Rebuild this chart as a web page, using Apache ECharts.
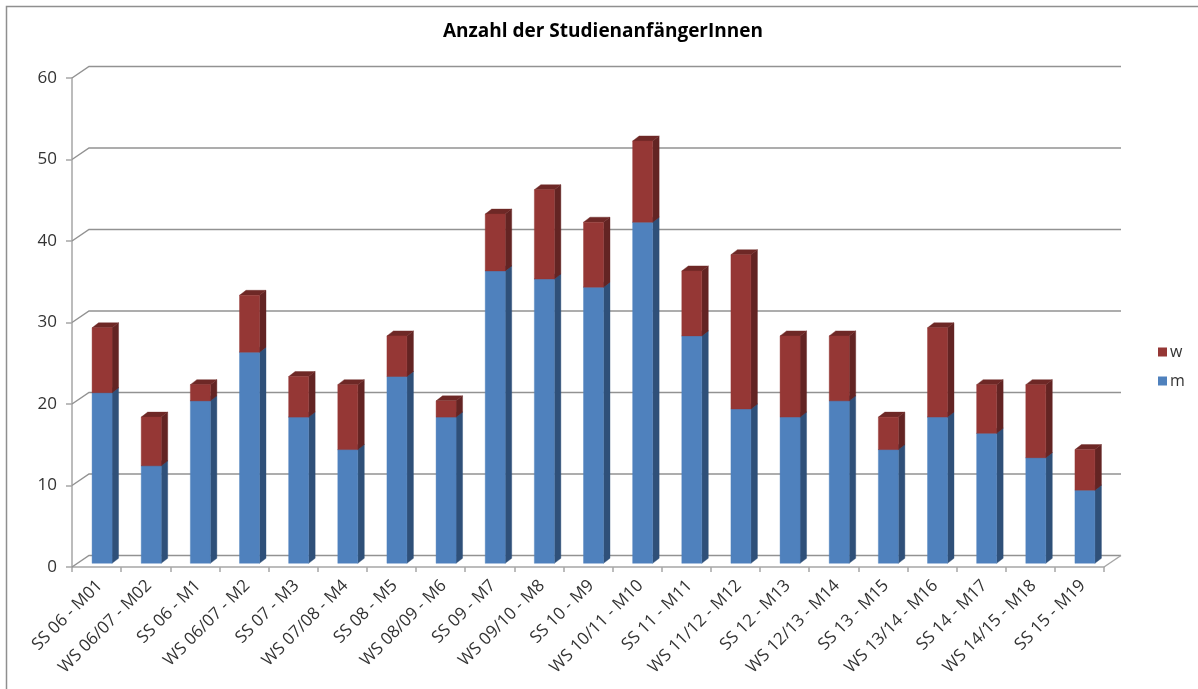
<!DOCTYPE html>
<html>
<head>
<meta charset="utf-8">
<style>
  html, body { margin: 0; padding: 0; background: #fff; }
  #myEchart { width: 1198px; height: 689px; }
</style>
<script src="https://cdn.jsdelivr.net/npm/echarts@6/dist/echarts.min.js"></script>
</head>
<body>
<div id="myEchart"></div>
<script>
const categories = [
  "SS 06 - M01", "WS 06/07 - M02", "SS 06 - M1", "WS 06/07 - M2", "SS 07 - M3",
  "WS 07/08 - M4", "SS 08 - M5", "WS 08/09 - M6", "SS 09 - M7", "WS 09/10 - M8",
  "SS 10 - M9", "WS 10/11 - M10", "SS 11 - M11", "WS 11/12 - M12", "SS 12 - M13",
  "WS 12/13 - M14", "SS 13 - M15", "WS 13/14 - M16", "SS 14 - M17", "WS 14/15 - M18",
  "SS 15 - M19"
];
const mValues = [21, 12, 20, 26, 18, 14, 23, 18, 36, 35, 34, 42, 28, 19, 18, 20, 14, 18, 16, 13, 9];
const wValues = [8, 6, 2, 7, 5, 8, 5, 2, 7, 11, 8, 10, 8, 19, 10, 8, 4, 11, 6, 9, 5];
const yTicks = [0, 10, 20, 30, 40, 50, 60];

const fontName = "'Open Sans', 'Noto Sans', sans-serif";
const axisColor = "#a6a6a6";
const gridColor = "#929292";

// depth of the fake 3d box, in pixels
const wallDx = 17, wallDy = -11.5;
const barInsetX = 5, barInsetY = -3.7, barDx = 6.5, barDy = -5;
const barWidth = 20;
// bars stand a bit behind the front axis, so they scale slightly smaller
const depthScale = 0.9965;

function poly(points, fill) {
  return { type: "polygon", shape: { points: points }, style: { fill: fill, stroke: fill, lineWidth: 0.4 } };
}

function barRenderer(front, side, top) {
  return function (params, api) {
    const i = api.value(0);
    const base = api.coord([i, 0])[1];
    const low = api.coord([i, api.value(1)]);
    const high = api.coord([i, api.value(2)]);
    const x0 = low[0] + barInsetX - barWidth / 2 + 0.5;
    const x1 = x0 + barWidth;
    const y0 = base + (low[1] - base) * depthScale + barInsetY;
    const y1 = base + (high[1] - base) * depthScale + barInsetY;
    return {
      type: "group",
      children: [
        poly([[x1, y0], [x1 + barDx, y0 + barDy], [x1 + barDx, y1 + barDy], [x1, y1]], side),
        poly([[x0, y1], [x0 + barDx, y1 + barDy], [x1 + barDx, y1 + barDy], [x1, y1]], top),
        poly([[x0, y0], [x1, y0], [x1, y1], [x0, y1]], front)
      ]
    };
  };
}

function wallRenderer(params, api) {
  const left = api.coord([0, api.value(0)]);
  const size = api.size([1, 0]);
  const x0 = left[0] - size[0] / 2;
  const x1 = x0 + size[0] * categories.length;
  const y = left[1];
  const children = [{
    type: "polyline",
    shape: { points: [[x0, y], [x0 + wallDx, y + wallDy], [x1 + wallDx, y + wallDy]] },
    style: { fill: null, stroke: gridColor, lineWidth: 1.5 }
  }];
  if (api.value(0) === 0) {
    children.push({
      type: "line",
      shape: { x1: x1, y1: y, x2: x1 + wallDx, y2: y + wallDy },
      style: { stroke: axisColor, lineWidth: 1.5 }
    });
  }
  return { type: "group", children: children };
}

const mData = mValues.map((v, i) => [i, 0, v]);
const wData = wValues.map((v, i) => [i, mValues[i], mValues[i] + v]);

const chart = echarts.init(document.getElementById("myEchart"));
chart.setOption({
  animation: false,
  backgroundColor: "#fff",
  title: {
    text: "Anzahl der StudienanfängerInnen",
    left: 438,
    top: 17,
    textStyle: { fontFamily: fontName, fontSize: 19, fontWeight: "bold", color: "#000" }
  },
  legend: {
    orient: "vertical",
    left: 1153,
    top: 339,
    icon: "rect",
    itemWidth: 9,
    itemHeight: 9,
    itemGap: 13,
    data: ["w", "m"],
    textStyle: { fontFamily: fontName, fontSize: 16, color: "#333", padding: [0, 0, 0, -2] }
  },
  grid: { left: 72, right: 94, top: 78, bottom: 122 },
  xAxis: {
    type: "category",
    data: categories,
    axisLine: { lineStyle: { color: axisColor, width: 1.5 } },
    axisTick: { show: true, length: 5, lineStyle: { color: axisColor, width: 1.5 } },
    axisLabel: {
      interval: 0,
      rotate: 45,
      margin: 7,
      verticalAlign: "top",
      padding: [0, 4, 0, 0],
      fontFamily: fontName,
      fontSize: 17,
      color: "#333"
    }
  },
  yAxis: {
    type: "value",
    min: 0,
    max: 60,
    interval: 10,
    splitLine: { show: false },
    axisLine: { show: true, lineStyle: { color: axisColor, width: 1.5 } },
    axisTick: { show: true, length: 6, lineStyle: { color: axisColor, width: 1.5 } },
    axisLabel: { margin: 15, fontFamily: fontName, fontSize: 17, color: "#333" }
  },
  // outer frame of the chart area: only top and left are visible
  graphic: [
    {
      type: "polyline",
      silent: true,
      shape: { points: [[6.5, 689], [6.5, 6.5], [1198, 6.5]] },
      style: { fill: null, stroke: "#8f8f8f", lineWidth: 1.5 }
    }
  ],
  series: [
    {
      type: "custom",
      name: "wall",
      silent: true,
      clip: false,
      data: yTicks.map(t => [t]),
      encode: { y: 0 },
      renderItem: wallRenderer,
      z: 1
    },
    {
      type: "custom",
      name: "m",
      clip: false,
      data: mData,
      encode: { x: 0, y: [1, 2] },
      itemStyle: { color: "#4f81bd" },
      renderItem: barRenderer("#4f81bd", "#2f5079", "#2f5079"),
      z: 2
    },
    {
      type: "custom",
      name: "w",
      clip: false,
      data: wData,
      encode: { x: 0, y: [1, 2] },
      itemStyle: { color: "#953735" },
      renderItem: barRenderer("#953735", "#632423", "#6e2826"),
      z: 2
    }
  ]
});
window.addEventListener("resize", () => { chart.resize(); });
</script>
</body>
</html>
